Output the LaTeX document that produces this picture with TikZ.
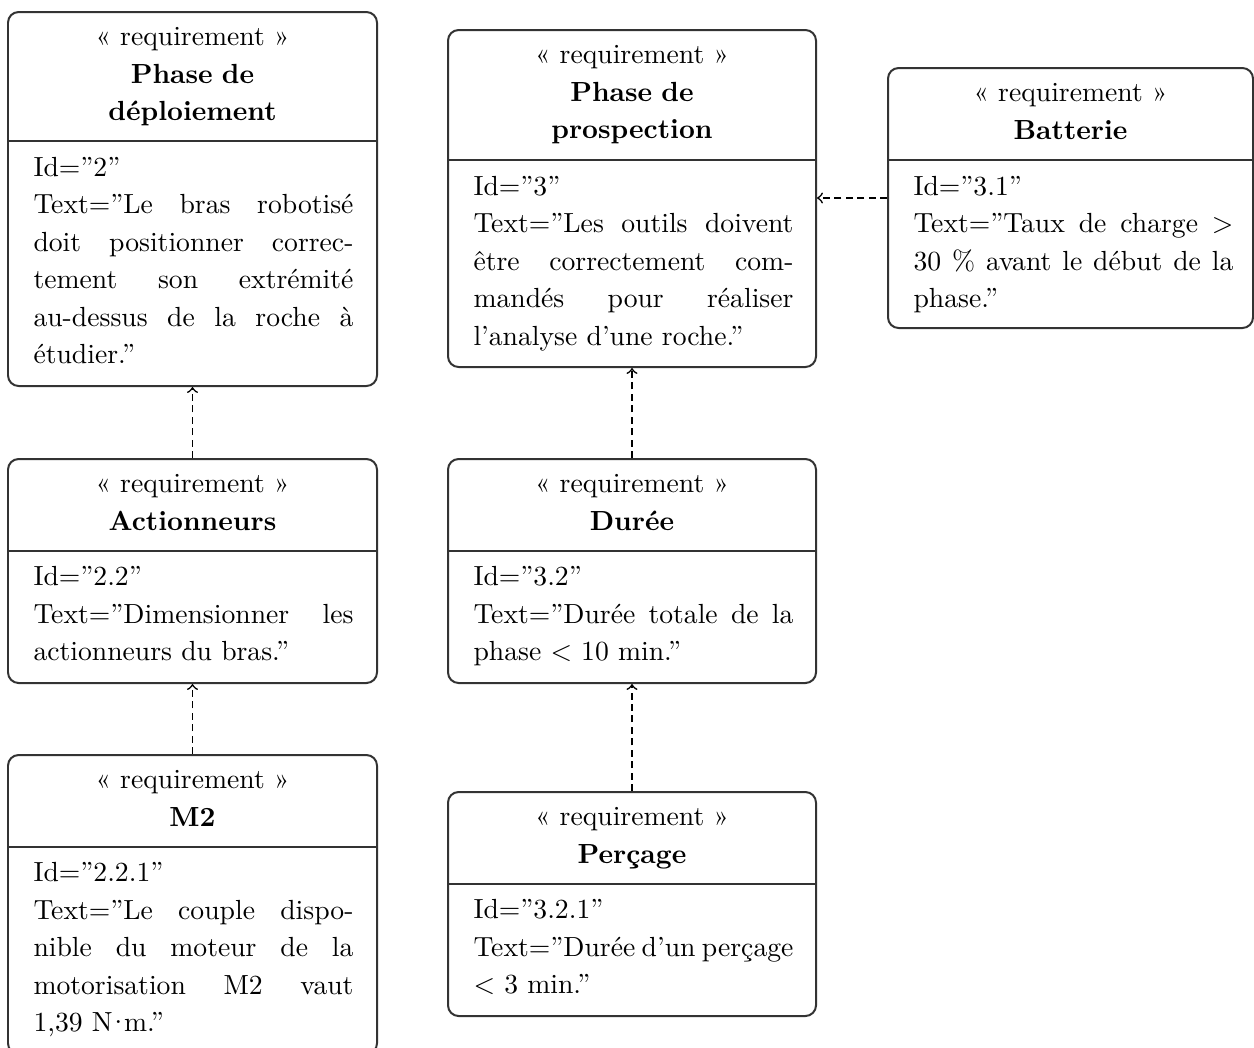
\documentclass[tikz,border=0pt]{standalone}
\usepackage{fontspec}
\usetikzlibrary{fit}
\setlength\parindent{0pt}
\newlength\bodyw
\setlength\bodyw{120.3pt}
% fonts of the compartments
\newcommand\headfont{\fontsize{10.4}{14.1}\selectfont}
\newcommand\bodyfont{\fontsize{10.4}{14.1}\selectfont}
% one justified line of a requirement text
\newcommand\jl[1]{\leavevmode\hbox to\bodyw{\spaceskip 3.4pt plus 1fil minus 1.2pt\relax #1}}
\tikzset{
  x=0.376pt, y=-0.376pt,
  reqframe/.style={draw=black!80, line width=0.75pt, rounded corners=4pt, inner sep=0pt},
  divline/.style={draw=black!80, line width=0.75pt},
  headtxt/.style={text width=130pt, align=center, font=\headfont, inner sep=0pt, anchor=base},
  bodytxt/.style={text width=\bodyw, align=left, font=\bodyfont, inner sep=0pt, anchor=base west},
  tracearrow/.style={->, dash pattern=on 2.6pt off 1.7pt, line width=0.6pt},
}
\begin{document}
\begin{tikzpicture}
\useasboundingbox (0,0) rectangle (1254,1047);

% ---------- Phase de deploiement ----------
\node[reqframe, fit={(8,12)(377,386)}] (dep) {};
\draw[divline] (dep.west |- 0,141) -- (dep.east |- 0,141);
\node[headtxt] (depH) at (192.5,45.5) {« requirement »\\\textbf{Phase de}\\\textbf{déploiement}};
\node[bodytxt] (depB) at (33,176) {Id=”2”\\
\jl{Text=”Le bras robotisé}\\
\jl{doit positionner correc-}\\
\jl{tement son extrémité}\\
\jl{au-dessus de la roche à}\\
étudier.”};

% ---------- Actionneurs ----------
\node[reqframe, fit={(8,459)(377,683)}] (act) {};
\draw[divline] (act.west |- 0,550.5) -- (act.east |- 0,550.5);
\node[headtxt] (actH) at (192.5,492.5) {« requirement »\\\textbf{Actionneurs}};
\node[bodytxt] (actB) at (33,585.5) {Id=”2.2”\\
\jl{Text=”Dimensionner les}\\
actionneurs du bras.”};

% ---------- M2 ----------
\node[reqframe, fit={(8,755)(377,1054)}] (mtwo) {};
\draw[divline] (mtwo.west |- 0,846.5) -- (mtwo.east |- 0,846.5);
\node[headtxt] (mtwoH) at (192.5,788.5) {« requirement »\\\textbf{M2}};
\node[bodytxt] (mtwoB) at (33,881.5) {Id=”2.2.1”\\
\jl{Text=”Le couple dispo-}\\
\jl{nible du moteur de la}\\
\jl{motorisation M2 vaut}\\
1,39 N\kern-1.9pt·\kern-1.9pt m.”};

% ---------- Phase de prospection ----------
\node[reqframe, fit={(448,30)(816,367)}] (pros) {};
\draw[divline] (pros.west |- 0,160) -- (pros.east |- 0,160);
\node[headtxt] (prosH) at (632,63.5) {« requirement »\\\textbf{Phase de}\\\textbf{prospection}};
\node[bodytxt] (prosB) at (473,195) {Id=”3”\\
\jl{Text=”Les outils doivent}\\
\jl{être correctement com-}\\
\jl{mandés pour réaliser}\\
l’analyse d’une roche.”};

% ---------- Batterie ----------
\node[reqframe, fit={(888,68)(1253,328)}] (bat) {};
\draw[divline] (bat.west |- 0,160) -- (bat.east |- 0,160);
\node[headtxt] (batH) at (1070.5,101.5) {« requirement »\\\textbf{Batterie}};
\node[bodytxt] (batB) at (913,195) {Id=”3.1”\\
\jl{Text=”Taux de charge >}\\
\jl{30 \% avant le début de la}\\
phase.”};

% ---------- Duree ----------
\node[reqframe, fit={(448,459)(816,683)}] (dur) {};
\draw[divline] (dur.west |- 0,550.5) -- (dur.east |- 0,550.5);
\node[headtxt] (durH) at (632,492.5) {« requirement »\\\textbf{Durée}};
\node[bodytxt] (durB) at (473,585.5) {Id=”3.2”\\
\jl{Text=”Durée totale de la}\\
phase < 10 min.”};

% ---------- Percage ----------
\node[reqframe, fit={(448,792)(816,1016)}] (per) {};
\draw[divline] (per.west |- 0,883.5) -- (per.east |- 0,883.5);
\node[headtxt] (perH) at (632,825.5) {« requirement »\\\textbf{Perçage}};
\node[bodytxt] (perB) at (473,918.5) {Id=”3.2.1”\\
\jl{Text=”Durée d’un perçage}\\
< 3 min.”};

% ---------- derivation links ----------
\draw[tracearrow] (act.north) -- (dep.south);
\draw[tracearrow] (mtwo.north) -- (act.south);
\draw[tracearrow] (dur.north) -- (pros.south);
\draw[tracearrow] (per.north) -- (dur.south);
\draw[tracearrow] (bat.west) -- (bat.west -| pros.east);
\end{tikzpicture}
\end{document}
